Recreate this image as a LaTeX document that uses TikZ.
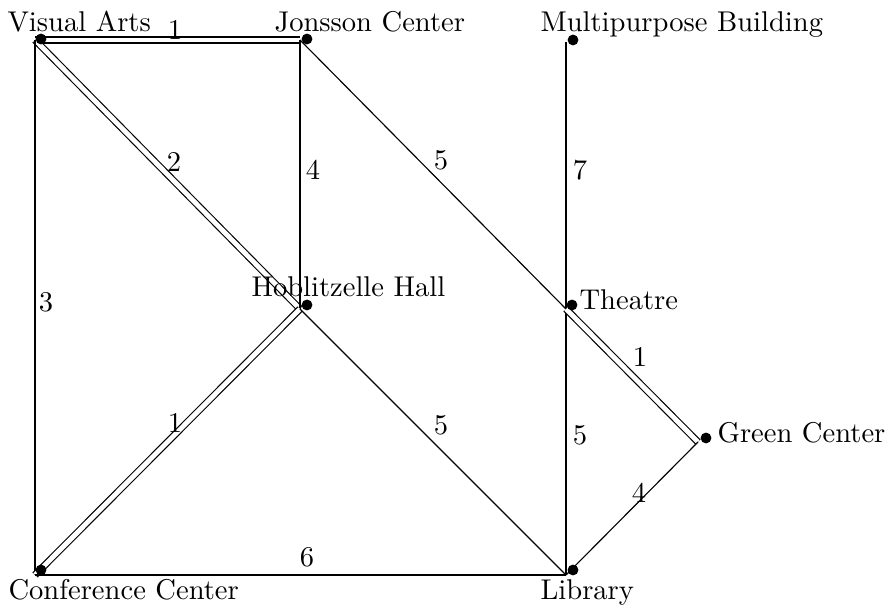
\documentclass[tikz,border=0pt]{standalone}
\begin{document}
\begin{tikzpicture}[x=0.35pt,y=-0.35pt,
  edge/.style={line width=0.4pt},
  dbl/.style={line width=0.4pt,double,double distance=1.7pt},
  dot/.style={circle,fill=black,inner sep=0pt,minimum size=3.8pt},
  place/.style={anchor=base west,inner sep=0pt,font=\fontsize{10}{12}\selectfont},
  wt/.style={inner sep=0pt,font=\fontsize{10}{12}\selectfont}]
\useasboundingbox (0,0) rectangle (892,612);
% vertices
\coordinate (va) at (35,40);
\coordinate (jc) at (300,40);
\coordinate (mb) at (566,42);
\coordinate (hh) at (300,309);
\coordinate (th) at (566,309);
\coordinate (gc) at (698,442);
\coordinate (cc) at (35,575);
\coordinate (lib) at (566,575);
% edges
\draw[dbl] (va) -- (jc);
\draw[dbl] (va) -- (hh);
\draw[edge] (va) -- (cc);
\draw[edge] (jc) -- (hh);
\draw[edge] (jc) -- (th);
\draw[edge] (mb) -- (th);
\draw[dbl] (hh) -- (cc);
\draw[edge] (hh) -- (lib);
\draw[edge] (th) -- (lib);
\draw[dbl] (th) -- (gc);
\draw[edge] (gc) -- (lib);
\draw[edge] (cc) -- (lib);
% dots
\node[dot] (dva) at (41,39) {};
\node[dot] (djc) at (307,39) {};
\node[dot] (dmb) at (573,40) {};
\node[dot] (dhh) at (307,305) {};
\node[dot] (dth) at (572,305) {};
\node[dot] (dgc) at (706,438) {};
\node[dot] (dcc) at (41,570) {};
\node[dot] (dlib) at (573,570) {};
% names
\node[place] (tva) at (7,32) {Visual Arts};
\node[place] (tjc) at (274,32) {Jonsson Center};
\node[place] (tmb) at (540,32) {Multipurpose Building};
\node[place] (thh) at (251,297) {Hoblitzelle Hall};
\node[place] (tth) at (579,310) {Theatre};
\node[place] (tgc) at (717,443) {Green Center};
\node[place] (tcc) at (8,600) {Conference Center};
\node[place] (tlib) at (540,600) {Library};
% weights
\node[wt] (w1) at (175,30) {1};
\node[wt] (w2) at (174,162) {2};
\node[wt] (w3) at (46,302) {3};
\node[wt] (w4) at (313,170) {4};
\node[wt] (w5) at (441,160) {5};
\node[wt] (w6) at (580,170) {7};
\node[wt] (w7) at (640,357) {1};
\node[wt] (w8) at (175,423) {1};
\node[wt] (w9) at (441,425) {5};
\node[wt] (w10) at (580,435) {5};
\node[wt] (w11) at (639,493) {4};
\node[wt] (w12) at (307,557) {6};
\end{tikzpicture}
\end{document}
